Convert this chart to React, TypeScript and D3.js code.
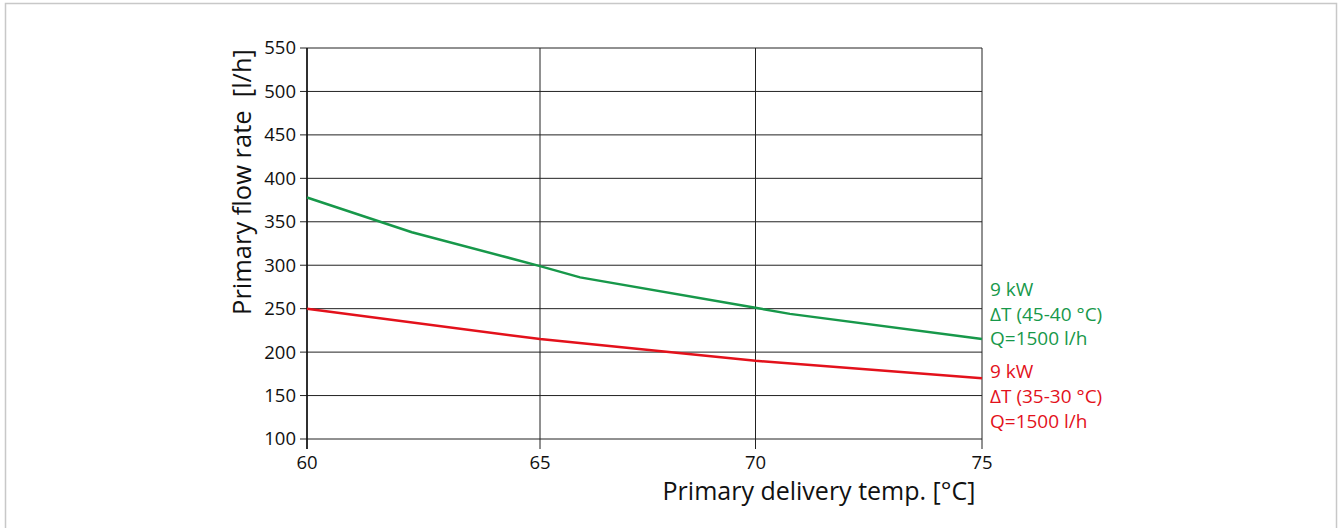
import React from "react";
import * as d3 from "d3";

const xTicks = [60, 65, 70, 75];
const yTicks = [100, 150, 200, 250, 300, 350, 400, 450, 500, 550];
const greenX = [60, 62.25, 65, 65.93, 70, 70.76, 75];
const greenY = [378, 338, 299, 286, 251, 244, 215];
const redX = [60, 65, 70, 75];
const redY = [250, 215, 190, 170];
const greenLabel = ["9 kW", "ΔT (45-40 °C)", "Q=1500 l/h"];
const redLabel = ["9 kW", "ΔT (35-30 °C)", "Q=1500 l/h"];

const W = 1339, H = 528;
const FONT = "'Open Sans', 'Noto Sans', sans-serif";
const GREEN = "#17984a";
const RED = "#e3111b";

export default function App() {
  // the reference grid is not evenly spaced; follow it piecewise
  const x = d3.scaleLinear().domain(xTicks).range([307, 540, 755.5, 982]);
  const y = d3.scaleLinear().domain([100, 550]).range([439, 48]);
  const line = d3.line<[number, number]>().x(d => x(d[0])).y(d => y(d[1]));
  const g = greenX.map((v, i) => [v, greenY[i]] as [number, number]);
  const r = redX.map((v, i) => [v, redY[i]] as [number, number]);
  return (
    <svg width={W} height={H} style={{ position: "absolute", left: 0, top: 0 }} fontFamily={FONT}>
      <rect x={0} y={0} width={W} height={H} fill="#fff" />
      <rect x={5.5} y={3.5} width={1331} height={540} fill="none" stroke="#c8c8c8" strokeWidth={1.5} />
      {yTicks.map(t => (
        <g key={"y" + t}>
          <line x1={300} x2={982} y1={y(t)} y2={y(t)} stroke="#222" strokeWidth={1} />
          <text x={296} y={y(t)} dy="0.35em" textAnchor="end" fontSize={18.5} fill="#111">{t}</text>
        </g>
      ))}
      {xTicks.map(t => (
        <g key={"x" + t}>
          <line x1={x(t)} x2={x(t)} y1={48} y2={449} stroke="#222" strokeWidth={1} />
          <text x={x(t)} y={469} textAnchor="middle" fontSize={18.5} fill="#111">{t}</text>
        </g>
      ))}
      <line x1={307} x2={307} y1={48} y2={449} stroke="#111" strokeWidth={1.5} />
      <path d={line(g) || ""} fill="none" stroke={GREEN} strokeWidth={2.5} />
      <path d={line(r) || ""} fill="none" stroke={RED} strokeWidth={2.5} />
      {greenLabel.map((s, i) => (
        <text key={"g" + i} x={990} y={296 + i * 24.5} fontSize={19} fill={GREEN}>{s}</text>
      ))}
      {redLabel.map((s, i) => (
        <text key={"r" + i} x={990} y={378 + i * 25} fontSize={19} fill={RED}>{s}</text>
      ))}
      <text transform="translate(251,182) rotate(-90)" textAnchor="middle" fontSize={25.5} fill="#111" style={{ whiteSpace: "pre" }}>Primary flow rate  [l/h]</text>
      <text x={819} y={500} textAnchor="middle" fontSize={25} fill="#111">Primary delivery temp. [°C]</text>
    </svg>
  );
}
